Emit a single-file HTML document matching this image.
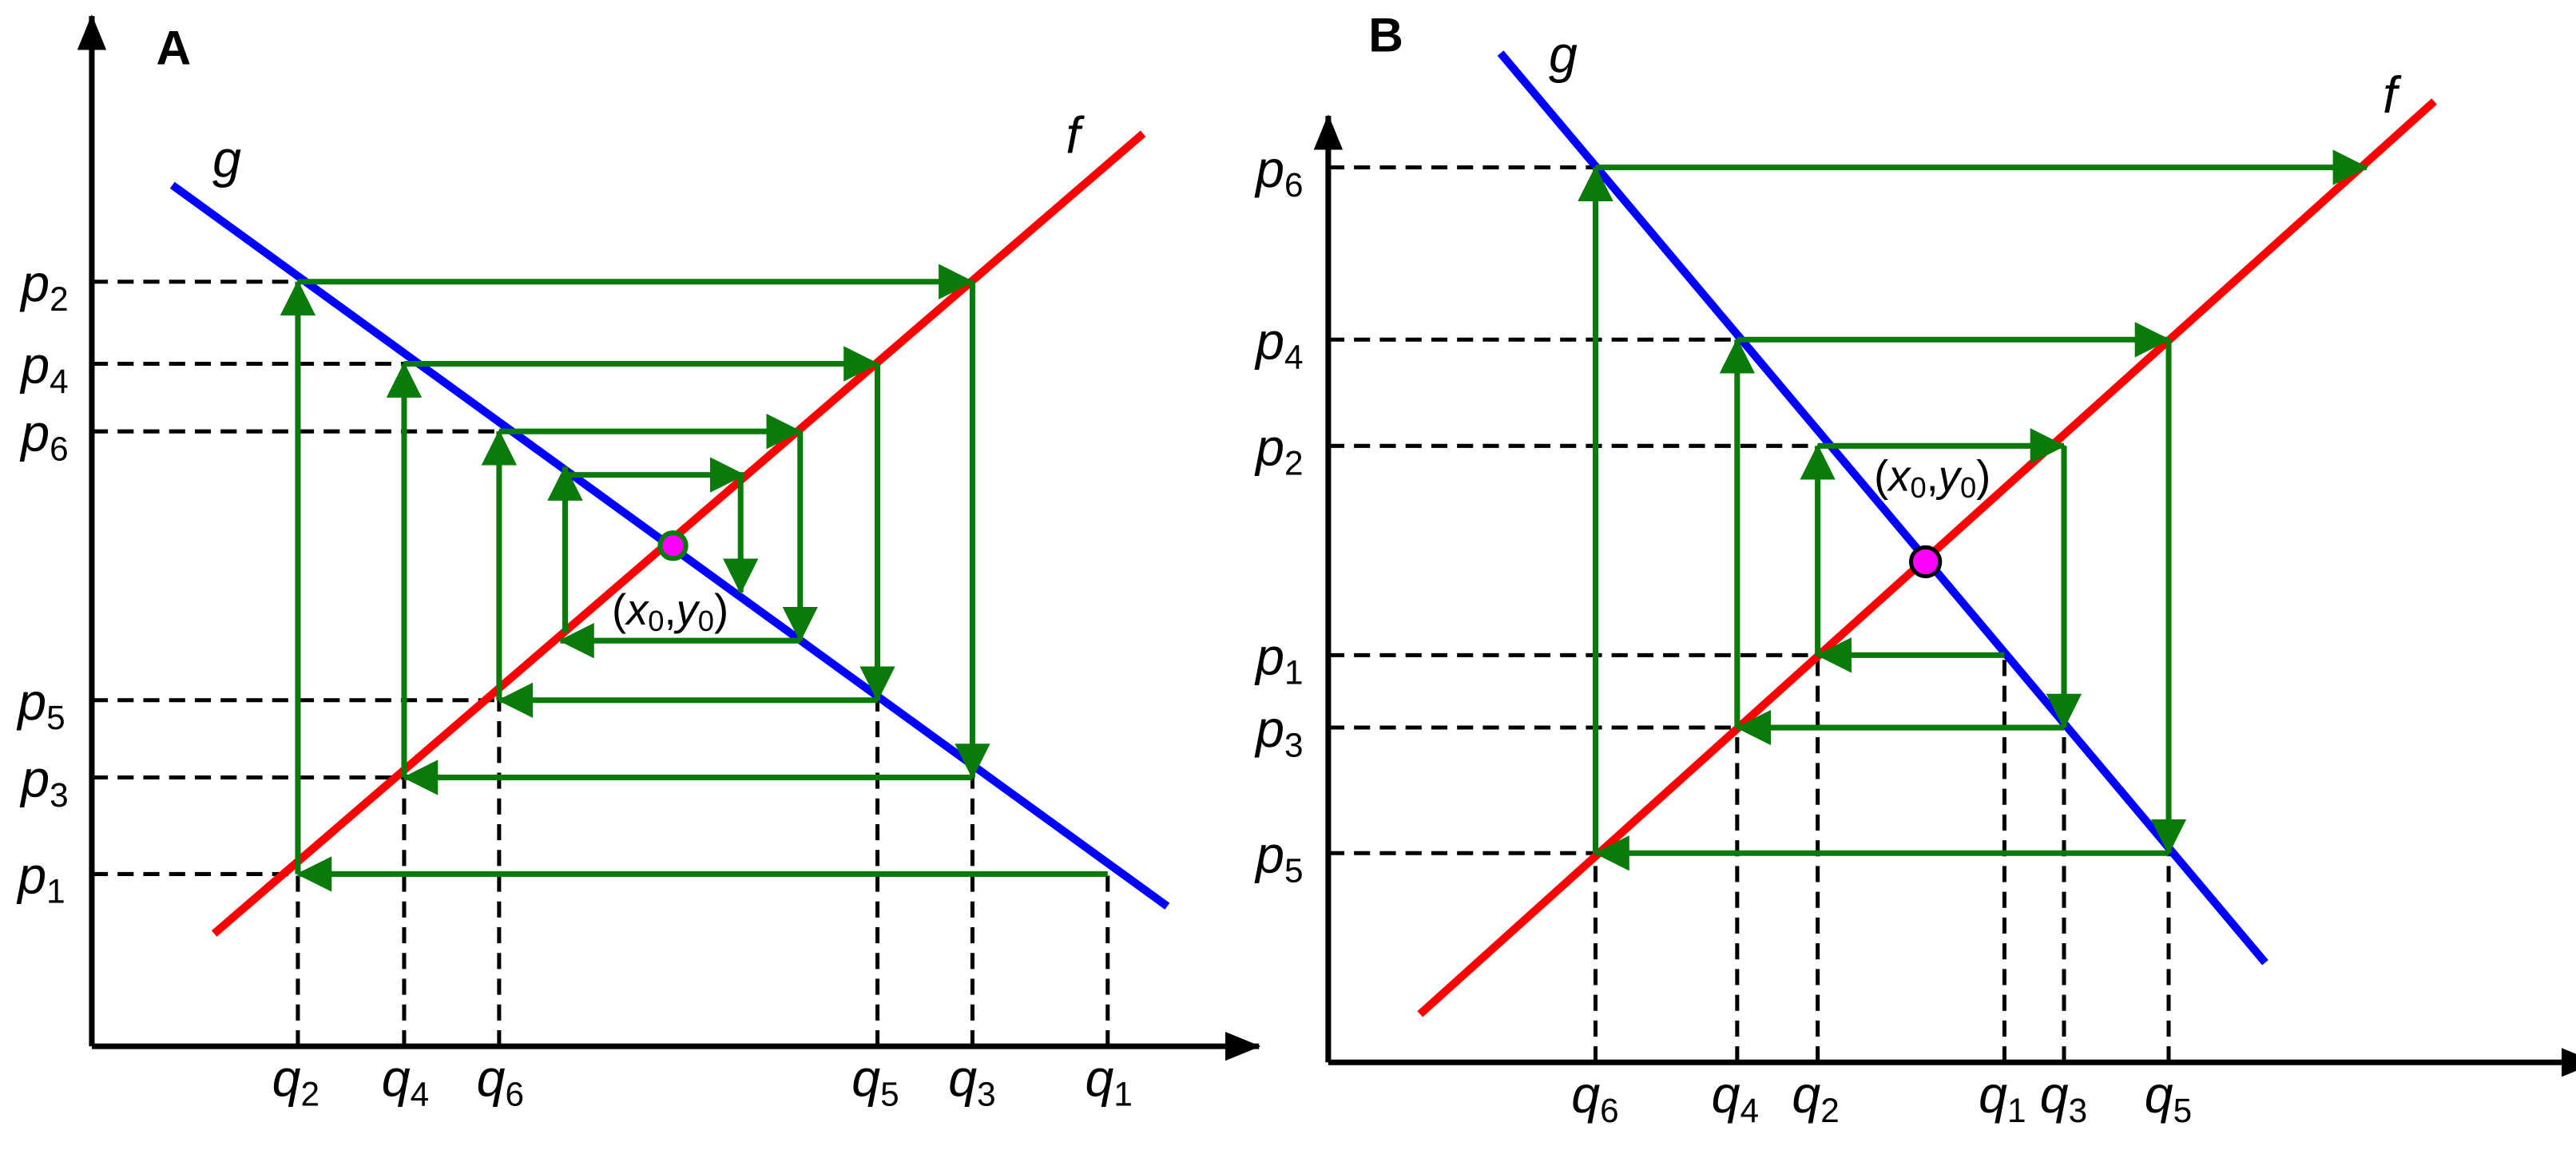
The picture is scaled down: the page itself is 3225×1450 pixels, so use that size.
<!DOCTYPE html>
<html><head><meta charset="utf-8"><style>html,body{margin:0;padding:0;background:#fff}svg{display:block}
text{font-family:"Liberation Sans",sans-serif;fill:#000}
.l{font-style:italic;font-size:32px}
.s{font-style:normal;font-size:21px}
</style></head><body>
<svg width="3225" height="1450" viewBox="0 0 1600 719.4" xmlns="http://www.w3.org/2000/svg">
<defs>
<marker id="ar" markerUnits="userSpaceOnUse" markerWidth="22" markerHeight="22" viewBox="0 0 22 22" refX="21" refY="11" orient="auto"><path d="M0,0 L22,11 L0,22 Z" fill="#0a7a0a"/></marker>
<marker id="ak" markerUnits="userSpaceOnUse" markerWidth="22" markerHeight="18" viewBox="0 0 22 18" refX="21" refY="9" orient="auto"><path d="M0,0 L22,9 L0,18 Z" fill="#000"/></marker>
</defs>
<!-- Panel A -->
<g stroke="#000" stroke-width="3.5" fill="none">
<line x1="57" y1="650" x2="57" y2="10" marker-end="url(#ak)"/>
<line x1="57" y1="650" x2="782" y2="650" marker-end="url(#ak)"/>
</g>
<text x="97" y="40" style="font-weight:bold;font-size:30px">A</text>
<g stroke="#000" stroke-width="2.5" stroke-dasharray="10,6" fill="none">
<line x1="57" y1="175" x2="185" y2="175"/><line x1="57" y1="226" x2="251" y2="226"/>
<line x1="57" y1="268" x2="310" y2="268"/><line x1="57" y1="435" x2="310" y2="435"/>
<line x1="57" y1="483" x2="251" y2="483"/><line x1="57" y1="543" x2="185" y2="543"/>
<line x1="185" y1="650" x2="185" y2="543"/><line x1="251" y1="650" x2="251" y2="483"/>
<line x1="310" y1="650" x2="310" y2="435"/><line x1="545" y1="650" x2="545" y2="435"/>
<line x1="604" y1="650" x2="604" y2="483"/><line x1="688" y1="650" x2="688" y2="543"/>
</g>
<line x1="107" y1="115" x2="725" y2="563" stroke="#0000ff" stroke-width="5"/>
<line x1="133" y1="580" x2="710" y2="83" stroke="#ff0000" stroke-width="5"/>
<g stroke="#0a7a0a" stroke-width="3.5" fill="none">
<line x1="688" y1="543" x2="185" y2="543" marker-end="url(#ar)"/>
<line x1="185" y1="543" x2="185" y2="175" marker-end="url(#ar)"/>
<line x1="185" y1="175" x2="604" y2="175" marker-end="url(#ar)"/>
<line x1="604" y1="175" x2="604" y2="483" marker-end="url(#ar)"/>
<line x1="604" y1="483" x2="251" y2="483" marker-end="url(#ar)"/>
<line x1="251" y1="483" x2="251" y2="226" marker-end="url(#ar)"/>
<line x1="251" y1="226" x2="545" y2="226" marker-end="url(#ar)"/>
<line x1="545" y1="226" x2="545" y2="435" marker-end="url(#ar)"/>
<line x1="545" y1="435" x2="310" y2="435" marker-end="url(#ar)"/>
<line x1="310" y1="435" x2="310" y2="268" marker-end="url(#ar)"/>
<line x1="310" y1="268" x2="497" y2="268" marker-end="url(#ar)"/>
<line x1="497" y1="268" x2="497" y2="398" marker-end="url(#ar)"/>
<line x1="497" y1="398" x2="348" y2="398" marker-end="url(#ar)"/>
<line x1="351" y1="393" x2="351" y2="290" marker-end="url(#ar)"/>
<line x1="351" y1="295" x2="462" y2="295" marker-end="url(#ar)"/>
<line x1="460" y1="295" x2="460" y2="368" marker-end="url(#ar)"/>
</g>
<circle cx="418" cy="339" r="8" fill="#ff00ff" stroke="#0a7a0a" stroke-width="3"/>
<text x="380" y="388" style="font-size:27px">(<tspan font-style="italic">x</tspan><tspan font-size="18" dy="4">0</tspan><tspan dy="-4">,</tspan><tspan font-style="italic">y</tspan><tspan font-size="18" dy="4">0</tspan><tspan dy="-4">)</tspan></text>
<text x="132" y="110" class="l">g</text>
<text x="662" y="95" class="l">f</text>
<g class="l">
<text x="13" y="187">p<tspan class="s" dy="6">2</tspan></text>
<text x="13" y="238">p<tspan class="s" dy="6">4</tspan></text>
<text x="13" y="280">p<tspan class="s" dy="6">6</tspan></text>
<text x="11" y="447">p<tspan class="s" dy="6">5</tspan></text>
<text x="13" y="495">p<tspan class="s" dy="6">3</tspan></text>
<text x="11" y="555">p<tspan class="s" dy="6">1</tspan></text>
<text x="169" y="681">q<tspan class="s" dy="6">2</tspan></text>
<text x="237" y="681">q<tspan class="s" dy="6">4</tspan></text>
<text x="296" y="681">q<tspan class="s" dy="6">6</tspan></text>
<text x="529" y="681">q<tspan class="s" dy="6">5</tspan></text>
<text x="589" y="681">q<tspan class="s" dy="6">3</tspan></text>
<text x="674" y="681">q<tspan class="s" dy="6">1</tspan></text>
</g>
<!-- Panel B -->
<g stroke="#000" stroke-width="3.5" fill="none">
<line x1="825" y1="660" x2="825" y2="72" marker-end="url(#ak)"/>
<line x1="825" y1="660" x2="1612" y2="660" marker-end="url(#ak)"/>
</g>
<text x="850" y="32" style="font-weight:bold;font-size:30px">B</text>
<g stroke="#000" stroke-width="2.5" stroke-dasharray="10,6" fill="none">
<line x1="825" y1="104" x2="991" y2="104"/><line x1="825" y1="211" x2="1079" y2="211"/>
<line x1="825" y1="277" x2="1129" y2="277"/><line x1="825" y1="407" x2="1129" y2="407"/>
<line x1="825" y1="452" x2="1079" y2="452"/><line x1="825" y1="530" x2="991" y2="530"/>
<line x1="991" y1="660" x2="991" y2="530"/><line x1="1079" y1="660" x2="1079" y2="452"/>
<line x1="1129" y1="660" x2="1129" y2="407"/><line x1="1245" y1="660" x2="1245" y2="407"/>
<line x1="1282" y1="660" x2="1282" y2="452"/><line x1="1347" y1="660" x2="1347" y2="530"/>
</g>
<line x1="932" y1="33" x2="1407" y2="598" stroke="#0000ff" stroke-width="5"/>
<line x1="882" y1="630" x2="1512" y2="63" stroke="#ff0000" stroke-width="5"/>
<g stroke="#0a7a0a" stroke-width="3.5" fill="none">
<line x1="1245" y1="407" x2="1129" y2="407" marker-end="url(#ar)"/>
<line x1="1129" y1="407" x2="1129" y2="277" marker-end="url(#ar)"/>
<line x1="1129" y1="277" x2="1282" y2="277" marker-end="url(#ar)"/>
<line x1="1282" y1="277" x2="1282" y2="452" marker-end="url(#ar)"/>
<line x1="1282" y1="452" x2="1079" y2="452" marker-end="url(#ar)"/>
<line x1="1079" y1="452" x2="1079" y2="211" marker-end="url(#ar)"/>
<line x1="1079" y1="211" x2="1347" y2="211" marker-end="url(#ar)"/>
<line x1="1347" y1="211" x2="1347" y2="530" marker-end="url(#ar)"/>
<line x1="1347" y1="530" x2="991" y2="530" marker-end="url(#ar)"/>
<line x1="991" y1="530" x2="991" y2="104" marker-end="url(#ar)"/>
<line x1="991" y1="104" x2="1470" y2="104" marker-end="url(#ar)"/>
</g>
<circle cx="1196" cy="349" r="9" fill="#ff00ff" stroke="#000" stroke-width="2.5"/>
<text x="1164" y="305" style="font-size:27px">(<tspan font-style="italic">x</tspan><tspan font-size="18" dy="4">0</tspan><tspan dy="-4">,</tspan><tspan font-style="italic">y</tspan><tspan font-size="18" dy="4">0</tspan><tspan dy="-4">)</tspan></text>
<text x="962" y="45" class="l">g</text>
<text x="1480" y="70" class="l">f</text>
<g class="l">
<text x="780" y="116">p<tspan class="s" dy="6">6</tspan></text>
<text x="780" y="223">p<tspan class="s" dy="6">4</tspan></text>
<text x="780" y="289">p<tspan class="s" dy="6">2</tspan></text>
<text x="780" y="419">p<tspan class="s" dy="6">1</tspan></text>
<text x="780" y="464">p<tspan class="s" dy="6">3</tspan></text>
<text x="780" y="542">p<tspan class="s" dy="6">5</tspan></text>
<text x="976" y="691">q<tspan class="s" dy="6">6</tspan></text>
<text x="1063" y="691">q<tspan class="s" dy="6">4</tspan></text>
<text x="1113" y="691">q<tspan class="s" dy="6">2</tspan></text>
<text x="1229" y="691">q<tspan class="s" dy="6">1</tspan></text>
<text x="1267" y="691">q<tspan class="s" dy="6">3</tspan></text>
<text x="1332" y="691">q<tspan class="s" dy="6">5</tspan></text>
</g>
</svg>
</body></html>
